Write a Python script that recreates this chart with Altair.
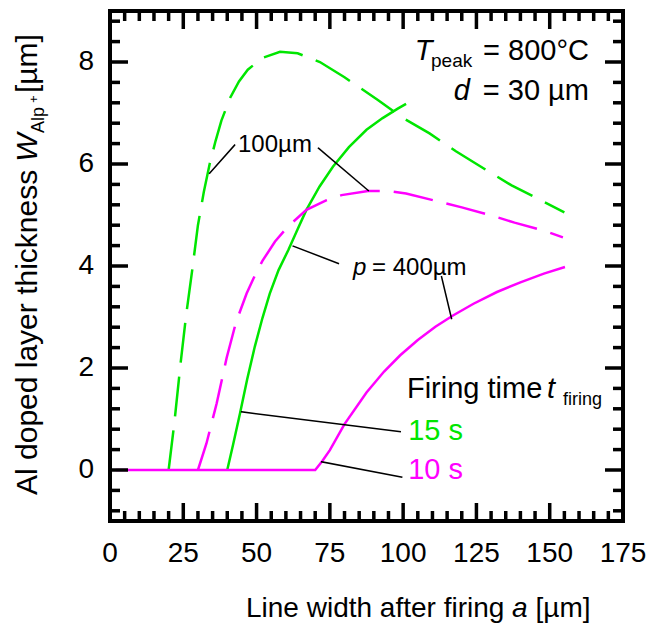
import altair as alt
import pandas as pd

FONT = "Liberation Sans"
GREEN = "#00e600"
MAGENTA = "#ff00ff"

# ---- series data ----
g15_p100_x = [20, 22, 24, 26, 28, 30, 32, 34, 36, 38, 41, 44, 47, 52, 58, 64, 71.6, 80, 91.5, 100, 109, 118, 128.4, 137, 146.6, 155]
g15_p100_y = [0, 0.95, 2.05, 3.05, 3.9, 4.8, 5.45, 6.0, 6.45, 6.85, 7.3, 7.62, 7.85, 8.08, 8.2, 8.17, 8.0, 7.7, 7.25, 6.9, 6.6, 6.25, 5.88, 5.58, 5.3, 5.05]

g15_p400_x = [40, 42, 44.3, 46.8, 49.4, 52, 54.5, 57.5, 60.8, 64, 67, 71.5, 76.1, 81.5, 87.5, 93, 98.3, 101]
g15_p400_y = [0, 0.5, 1.1, 1.78, 2.42, 2.98, 3.46, 3.92, 4.31, 4.72, 5.1, 5.56, 5.95, 6.33, 6.67, 6.9, 7.09, 7.18]

m10_p100_x = [30, 32.9, 36.4, 39.8, 43, 46.6, 48.9, 52, 56.3, 60.8, 67, 73.9, 79, 88, 95, 101, 110.2, 120, 129.6, 138, 147.7, 154.5]
m10_p100_y = [0, 0.52, 1.31, 2.2, 2.9, 3.46, 3.75, 4.1, 4.48, 4.78, 5.1, 5.29, 5.39, 5.47, 5.47, 5.42, 5.29, 5.15, 5.0, 4.85, 4.7, 4.56]

m10_p400_x = [2, 70, 72.5, 75, 80, 87.5, 93.5, 99, 105, 111, 117, 124, 132, 140, 148, 155.2]
m10_p400_y = [0, 0, 0.18, 0.39, 0.9, 1.52, 1.93, 2.25, 2.55, 2.81, 3.03, 3.26, 3.49, 3.68, 3.85, 3.98]

# ---- axis ticks / labels ----
X_LABELS = [0, 25, 50, 75, 100, 125, 150, 175]
Y_LABELS = [0, 2, 4, 6, 8]
X_MINOR = [5, 10, 15, 20, 30, 35, 40, 45, 55, 60, 65, 70, 80, 85, 90, 95, 105, 110, 115, 120,
           130, 135, 140, 145, 155, 160, 165, 170]
Y_MINOR = [-0.8, -0.4, 0.4, 0.8, 1.2, 1.6, 2.4, 2.8, 3.2, 3.6, 4.4, 4.8, 5.2, 5.6, 6.4, 6.8,
           7.2, 7.6, 8.4, 8.8]

X_DOM = [0, 175]
Y_DOM = [-1, 9]
W, H = 513, 510
MAJ, MIN = 18, 10  # tick lengths in pixels
PX_X = (X_DOM[1] - X_DOM[0]) / W   # data units per pixel
PX_Y = (Y_DOM[1] - Y_DOM[0]) / H

XS = alt.Scale(domain=X_DOM, nice=False, zero=False)
YS = alt.Scale(domain=Y_DOM, nice=False, zero=False)


def X(field="x"):
    return alt.X(f"{field}:Q", scale=XS, axis=None)


def Y(field="y"):
    return alt.Y(f"{field}:Q", scale=YS, axis=None)


def series(xs, ys, color, dashed):
    df = pd.DataFrame({"x": xs, "y": ys})
    kw = dict(color=color, strokeWidth=2.5)
    if dashed:
        kw["strokeDash"] = [40, 14]
    return alt.Chart(df).mark_line(**kw).encode(x=X(), y=Y())


def label(text, x, y, size, italic=False, color="black", align="left"):
    return alt.Chart(alt.Data(values=[{"x": x, "y": y}])).mark_text(
        text=text, font=FONT, fontSize=size, fontStyle="italic" if italic else "normal",
        color=color, align=align, baseline="alphabetic"
    ).encode(x=X(), y=Y())


def ptext(text, px, py, size, italic=False, angle=0, align="left"):
    return alt.Chart(alt.Data(values=[{}])).mark_text(
        text=text, font=FONT, fontSize=size, fontStyle="italic" if italic else "normal",
        color="black", align=align, baseline="alphabetic", angle=angle
    ).encode(x=alt.value(px), y=alt.value(py))


def segs(rows, width, cap="square"):
    return alt.Chart(alt.Data(values=rows)).mark_rule(
        color="black", strokeWidth=width, strokeCap=cap
    ).encode(x=X(), y=Y(), x2="x2:Q", y2="y2:Q")


def leader(x1, y1, x2, y2):
    return segs([{"x": x1, "y": y1, "x2": x2, "y2": y2}], 1.5)


def frame():
    x0, x1 = X_DOM
    y0, y1 = Y_DOM
    rows = [
        {"x": x0, "y": y0, "x2": x1, "y2": y0},
        {"x": x0, "y": y1, "x2": x1, "y2": y1},
        {"x": x0, "y": y0, "x2": x0, "y2": y1},
        {"x": x1, "y": y0, "x2": x1, "y2": y1},
    ]
    return segs(rows, 4)


def tick_lines():
    # every tick is a two-point line, grouped by id; inward on all four sides
    rows = []
    n = 0
    x0, x1 = X_DOM
    y0, y1 = Y_DOM
    for vals, ln in ((X_LABELS, MAJ), (X_MINOR, MIN)):
        for v in vals:
            for ya, yb in ((y0, y0 + ln * PX_Y), (y1, y1 - ln * PX_Y)):
                rows.append({"id": n, "k": 0, "x": v, "y": ya})
                rows.append({"id": n, "k": 1, "x": v, "y": yb})
                n += 1
    for vals, ln in ((Y_LABELS, MAJ), (Y_MINOR, MIN)):
        for v in vals:
            for xa, xb in ((x0, x0 + ln * PX_X), (x1, x1 - ln * PX_X)):
                rows.append({"id": n, "k": 0, "x": xa, "y": v})
                rows.append({"id": n, "k": 1, "x": xb, "y": v})
                n += 1
    return alt.Chart(pd.DataFrame(rows)).mark_line(
        color="black", strokeWidth=3.5, strokeCap="butt"
    ).encode(x=X(), y=Y(), detail="id:N", order=alt.Order("k:Q"))


def xlabels():
    df = pd.DataFrame({"x": X_LABELS, "t": [str(v) for v in X_LABELS]})
    return alt.Chart(df).mark_text(
        font=FONT, fontSize=28, color="black", align="center", baseline="alphabetic"
    ).encode(x=X(), y=alt.value(H + 41), text="t:N")


def ylabels():
    df = pd.DataFrame({"y": Y_LABELS, "t": [str(v) for v in Y_LABELS]})
    return alt.Chart(df).mark_text(
        font=FONT, fontSize=28, color="black", align="right", baseline="middle"
    ).encode(y=Y(), x=alt.value(-16), text="t:N")


layers = [
    series(g15_p100_x, g15_p100_y, GREEN, True),
    series(g15_p400_x, g15_p400_y, GREEN, False),
    series(m10_p100_x, m10_p100_y, MAGENTA, True),
    series(m10_p400_x, m10_p400_y, MAGENTA, False),
    # frame, inward ticks on all four sides, tick labels
    frame(),
    tick_lines(),
    xlabels(),
    ylabels(),
    # leader lines
    leader(42.5, 6.37, 34.0, 5.82),
    leader(71.1, 6.31, 88.1, 5.48),
    leader(62.5, 4.39, 77.9, 4.05),
    leader(113.1, 3.79, 116.5, 2.97),
    leader(44.9, 1.14, 99.0, 0.75),
    leader(72.2, 0.16, 99.5, -0.14),
    # annotations
    label("T", 104.0, 8.04, 29, italic=True),
    label("peak", 109.5, 7.90, 19),
    label("= 800°C", 163.4, 8.04, 29, align="right"),
    label("d", 122.8, 7.255, 29, italic=True, align="right"),
    label("= 30 µm", 163.4, 7.255, 29, align="right"),
    label("100µm", 43.67, 6.235, 24),
    label("p", 82.9, 3.824, 24, italic=True),
    label("= 400µm", 89.4, 3.824, 24),
    label("Firing time", 101.3, 1.412, 29),
    label("t", 149.1, 1.412, 29, italic=True),
    label("firing", 154.5, 1.275, 18),
    label("15 s", 101.7, 0.588, 29, color=GREEN),
    label("10 s", 101.7, -0.176, 29, color=MAGENTA),
    # x axis title
    ptext("Line width after firing", 136, 606, 28),
    ptext("a", 402, 606, 28, italic=True),
    ptext("[µm]", 425.5, 606, 28),
    # y axis title (rotated)
    ptext("Al doped layer thickness", -73, 484, 30, angle=270),
    ptext("W", -73, 150.8, 30, italic=True, angle=270),
    ptext("Alp", -66, 122, 18, angle=270),
    ptext("+", -72, 92, 13, angle=270),
    ptext("[µm]", -73, 82, 30, angle=270),
]

chart = alt.layer(*layers).properties(
    width=W, height=H,
    background="white",
    autosize=alt.AutoSizeParams(type="none"),
    padding={"left": 110, "top": 11, "right": 24, "bottom": 113},
).configure_view(strokeWidth=0)

chart.save("out.html", embed_options={"renderer": "svg", "actions": False})
